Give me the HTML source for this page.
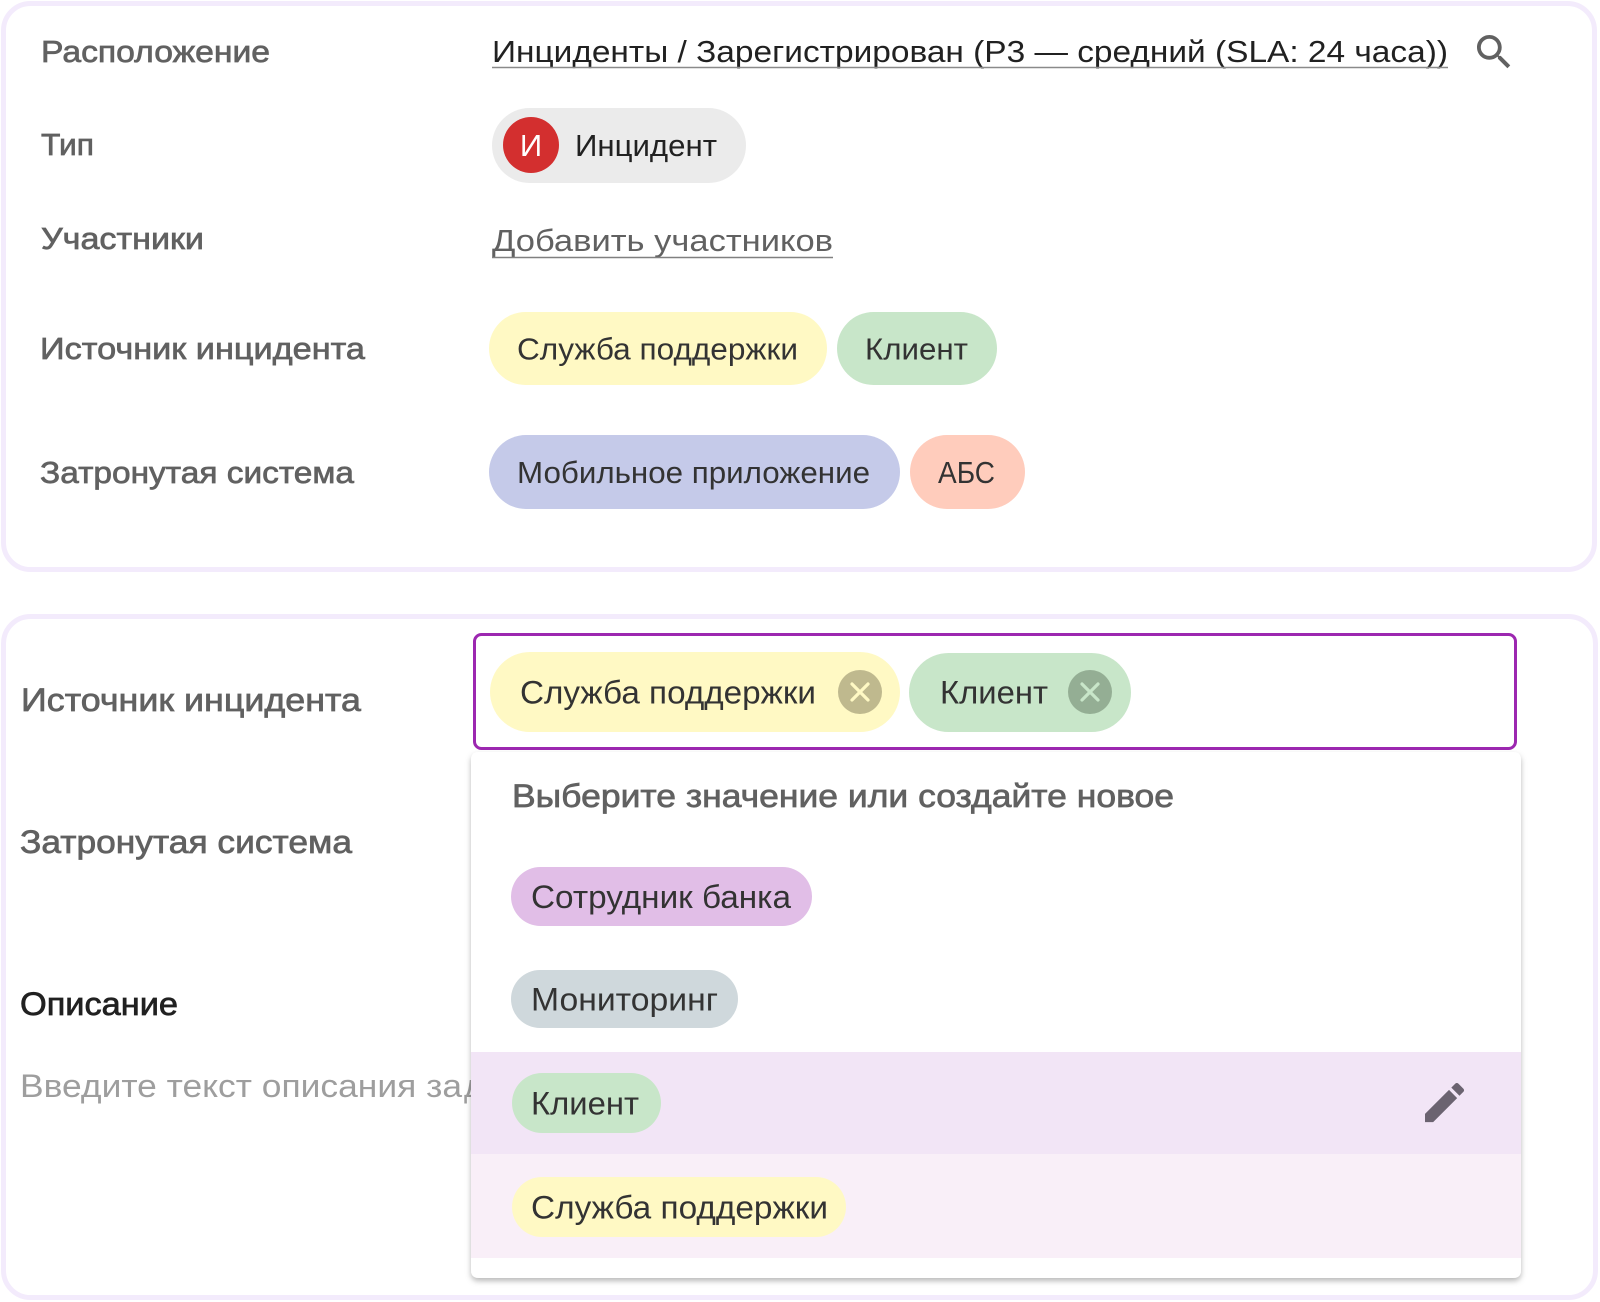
<!DOCTYPE html>
<html><head><meta charset="utf-8"><style>
html,body{margin:0;padding:0;background:#fff;}
body{width:1600px;height:1302px;overflow:hidden;}
svg{display:block;}
text{font-family:"Liberation Sans","Noto Sans CJK SC",sans-serif;}
.lbl{fill:#616161;stroke:#616161;stroke-width:0.7px;}
.pt{fill:#333;}
</style></head><body>
<svg width="1600" height="1302" viewBox="0 0 1600 1302" xmlns="http://www.w3.org/2000/svg">
<defs>
<filter id="sh" x="-3%" y="-3%" width="106%" height="108%">
<feDropShadow dx="0" dy="3" stdDeviation="3" flood-color="#000" flood-opacity="0.28"/>
</filter>
</defs>
<rect x="0" y="0" width="1600" height="1302" fill="#fff"/>
<!-- Card 1 -->
<rect x="3.5" y="3.5" width="1591" height="566" rx="27" fill="#fff" stroke="#f3ebfc" stroke-width="5"/>
<g font-size="31">
<text class="lbl" x="41" y="62" textLength="229" lengthAdjust="spacingAndGlyphs">Расположение</text>
<text x="492" y="62" fill="#212121" textLength="956" lengthAdjust="spacingAndGlyphs">Инциденты / Зарегистрирован (Р3 — средний (SLA: 24 часа))</text>
<line x1="492" y1="67.5" x2="1448" y2="67.5" stroke="#8a8a8a" stroke-width="1.6"/>
<path transform="translate(1471.3,29.3) scale(1.9)" fill="#616161" d="M15.5 14h-.79l-.28-.27C15.41 12.59 16 11.11 16 9.5 16 5.91 13.09 3 9.5 3S3 5.91 3 9.5 5.91 16 9.5 16c1.61 0 3.09-.59 4.23-1.57l.27.28v.79l5 4.99L20.49 19l-4.99-5zm-6 0C7.01 14 5 11.99 5 9.5S7.01 5 9.5 5 14 7.01 14 9.5 11.99 14 9.5 14z"/>

<text class="lbl" x="41" y="155" textLength="53" lengthAdjust="spacingAndGlyphs">Тип</text>
<rect x="492" y="108" width="254" height="75" rx="37.5" fill="#ebebeb"/>
<circle cx="531" cy="145" r="28" fill="#d32f2f"/>
<text x="531" y="156" fill="#fff" text-anchor="middle">И</text>
<text x="575" y="156" fill="#212121" textLength="142" lengthAdjust="spacingAndGlyphs">Инцидент</text>

<text class="lbl" x="41" y="249" textLength="163" lengthAdjust="spacingAndGlyphs">Участники</text>
<text x="492" y="251" fill="#616161" textLength="341" lengthAdjust="spacingAndGlyphs">Добавить участников</text>
<line x1="492" y1="257.5" x2="833" y2="257.5" stroke="#808080" stroke-width="1.6"/>

<text class="lbl" x="40" y="359" textLength="325" lengthAdjust="spacingAndGlyphs">Источник инцидента</text>
<rect x="489" y="312" width="338" height="73" rx="36.5" fill="#fff9c4"/>
<text class="pt" x="517" y="359.5" textLength="281" lengthAdjust="spacingAndGlyphs">Служба поддержки</text>
<rect x="837" y="312" width="160" height="73" rx="36.5" fill="#c8e6c9"/>
<text class="pt" x="865" y="359.5" textLength="103" lengthAdjust="spacingAndGlyphs">Клиент</text>

<text class="lbl" x="40" y="483" textLength="314" lengthAdjust="spacingAndGlyphs">Затронутая система</text>
<rect x="489" y="435" width="411" height="74" rx="37" fill="#c5cae9"/>
<text class="pt" x="517" y="483" textLength="353" lengthAdjust="spacingAndGlyphs">Мобильное приложение</text>
<rect x="910" y="435" width="115" height="74" rx="37" fill="#ffccbc"/>
<text class="pt" x="938" y="483" textLength="57" lengthAdjust="spacingAndGlyphs">АБС</text>
</g>

<!-- Card 2 -->
<rect x="3.5" y="616.5" width="1592" height="681" rx="27" fill="#fff" stroke="#f3ebfc" stroke-width="5"/>
<g font-size="32">
<text class="lbl" x="21" y="711" textLength="340" lengthAdjust="spacingAndGlyphs">Источник инцидента</text>
<rect x="474.5" y="634.5" width="1041" height="114" rx="7" fill="#fff" stroke="#9c27b0" stroke-width="3"/>
<rect x="490" y="652" width="410" height="80" rx="40" fill="#fff9c4"/>
<text class="pt" x="520" y="703.5" textLength="296" lengthAdjust="spacingAndGlyphs">Служба поддержки</text>
<circle cx="860" cy="692" r="22" fill="#bfb98e"/>
<path d="M852 684 L868 700 M868 684 L852 700" stroke="#fff9c4" stroke-width="3.2" stroke-linecap="round"/>
<rect x="909" y="653" width="222" height="79" rx="39.5" fill="#c8e6c9"/>
<text class="pt" x="940" y="703.5" textLength="108" lengthAdjust="spacingAndGlyphs">Клиент</text>
<circle cx="1090" cy="692" r="22" fill="#94ae94"/>
<path d="M1082 684 L1098 700 M1098 684 L1082 700" stroke="#c8e6c9" stroke-width="3.2" stroke-linecap="round"/>

<text class="lbl" x="20" y="853" textLength="332" lengthAdjust="spacingAndGlyphs">Затронутая система</text>
<text x="20" y="1015" fill="#212121" stroke="#212121" stroke-width="0.7" textLength="158" lengthAdjust="spacingAndGlyphs">Описание</text>
<text x="20" y="1097" fill="#9e9e9e" textLength="442" lengthAdjust="spacingAndGlyphs">Введите текст описания за</text>
<text x="464" y="1097" fill="#9e9e9e">дачи</text>

<!-- Dropdown -->
<path d="M471 760 Q471 752 479 752 L1513 752 Q1521 752 1521 760 L1521 1270 Q1521 1278 1513 1278 L479 1278 Q471 1278 471 1270 Z" fill="#fff" filter="url(#sh)"/>
<rect x="471" y="1052" width="1050" height="102" fill="#f2e5f6"/>
<rect x="471" y="1154" width="1050" height="104" fill="#f9eff8"/>
<text class="lbl" x="512" y="807" textLength="662" lengthAdjust="spacingAndGlyphs">Выберите значение или создайте новое</text>
<rect x="511" y="867" width="301" height="59" rx="29.5" fill="#e1bee7"/>
<text class="pt" x="531" y="908" textLength="260" lengthAdjust="spacingAndGlyphs">Сотрудник банка</text>
<rect x="511" y="970" width="227" height="58" rx="29" fill="#cfd8dc"/>
<text class="pt" x="531" y="1010.5" textLength="187" lengthAdjust="spacingAndGlyphs">Мониторинг</text>
<rect x="512" y="1073" width="149" height="60" rx="30" fill="#c8e6c9"/>
<text class="pt" x="531" y="1114.5" textLength="108" lengthAdjust="spacingAndGlyphs">Клиент</text>
<path transform="translate(1418.5,1076.5) scale(2.17)" fill="#6b6370" d="M3 17.25V21h3.75L17.81 9.94l-3.75-3.75L3 17.25zM20.71 7.04c.39-.39.39-1.02 0-1.41l-2.34-2.34c-.39-.39-1.02-.39-1.41 0l-1.83 1.83 3.75 3.75 1.83-1.83z"/>
<rect x="512" y="1177" width="334" height="60" rx="30" fill="#fff9c4"/>
<text class="pt" x="531" y="1218.5" textLength="297" lengthAdjust="spacingAndGlyphs">Служба поддержки</text>
</g>
</svg>
</body></html>
